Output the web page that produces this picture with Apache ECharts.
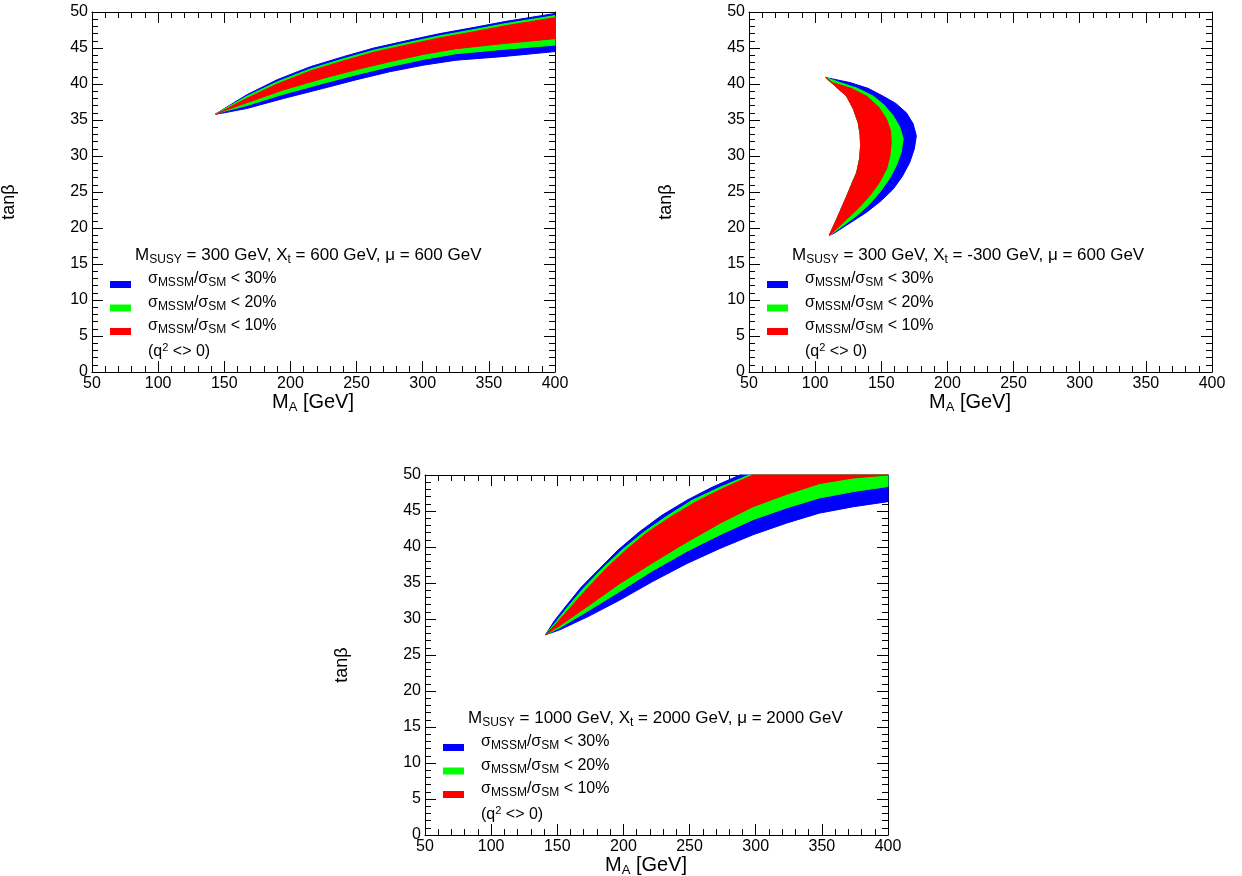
<!DOCTYPE html>
<html>
<head>
<meta charset="utf-8">
<script src="https://cdn.jsdelivr.net/npm/echarts@6/dist/echarts.min.js"></script>
<style>html,body{margin:0;padding:0;background:#fff}#c{width:1242px;height:876px}</style>
</head>
<body>
<div id="c"></div>
<script>
// ticks
const xTicks = [50, 100, 150, 200, 250, 300, 350, 400];
const yTicks = [0, 5, 10, 15, 20, 25, 30, 35, 40, 45, 50];

// panel 1: MSUSY=300, Xt=600, mu=600  (upper edge then lower edge, [MA, tanb])
const p1BlueUp = [[143,35.8],[167,38.5],[190,40.6],[215,42.4],[240,43.8],[263,45],[290,46.1],[313,47],[340,47.9],[363,48.7],[400,49.8]];
const p1BlueLo = [[400,44.5],[360,43.8],[325,43.3],[300,42.6],[275,41.7],[250,40.6],[225,39.4],[195,38],[167,36.6],[150,36]];
const p1GreenUp = [[143,35.8],[167,38.3],[190,40.3],[215,42.1],[240,43.5],[263,44.7],[290,45.8],[313,46.7],[340,47.6],[363,48.4],[400,49.5]];
const p1GreenLo = [[400,45.4],[360,44.8],[325,44.2],[300,43.4],[275,42.4],[250,41.3],[225,40.1],[195,38.6],[167,37],[150,36.2]];
const p1RedUp = [[144,35.8],[167,38],[190,40],[215,41.8],[240,43.2],[263,44.4],[290,45.5],[313,46.4],[340,47.3],[363,48.1],[400,49.2]];
const p1RedLo = [[400,46.3],[360,45.6],[325,44.9],[300,44.1],[275,43.1],[250,42],[225,40.8],[195,39.2],[167,37.4],[150,36.3]];

// panel 2: MSUSY=300, Xt=-300, mu=600  (outer edge then inner edge)
const p2Inner = [[110.7,19],[116.2,21.2],[123.8,24.4],[129,26.7],[131.4,27.7],[133.6,29.6],[134.4,31.4],[134,33],[132.6,34.6],[129,36.5],[123.8,38.3],[108,40.9]];
const p2BlueOut = [[108,40.9],[126.3,40.2],[140,39.4],[151.5,38.3],[161,37.3],[169,36],[174,34.5],[176.5,32.8],[175,31],[171.5,29.1],[166,27.2],[159,25.4],[150,23.8],[139,22.2],[113.7,19.2],[110.7,19]];
const p2GreenOut = [[108,40.9],[118.8,40.2],[132,39.4],[144,38.3],[152,37.1],[159,35.6],[164,34],[166.6,32.4],[165,30.5],[161.5,28.7],[156,26.8],[149,25],[141,23.3],[131.4,21.7],[112,19.1],[110.7,19]];
const p2RedOut = [[108,40.9],[113,40.2],[127,39.4],[139,38.3],[148,36.8],[154,35.1],[157,33.5],[157.5,31.9],[156.5,30],[154,28.2],[148.5,26.3],[141.4,24.5],[133,22.8],[123.8,21.2],[111,19],[110.7,19]];

// panel 3: MSUSY=1000, Xt=2000, mu=2000
const p3BlueUp = [[141,27.8],[148,29.8],[157,31.9],[168,34.4],[182,37],[196,39.6],[212,42.1],[229,44.4],[248,46.5],[267,48.3],[288,50],[400,50]];
const p3BlueLo = [[400,46.3],[374,45.6],[348,44.7],[323,43.3],[298,41.7],[273,39.8],[248,37.7],[222,35.2],[197,32.6],[174,30.4],[152,28.5]];
const p3GreenUp = [[141,27.8],[149,29.6],[158,31.7],[170,34.3],[184,37],[199,39.6],[215,42],[233,44.3],[252,46.5],[273,48.3],[295,50],[400,50]];
const p3GreenLo = [[400,48.4],[374,47.7],[348,46.8],[323,45.4],[298,43.8],[273,41.7],[248,39.4],[222,36.7],[197,33.8],[174,31.2],[152,28.8]];
const p3RedUp = [[141,27.8],[150,29.5],[160,31.6],[173,34.3],[187,37],[202,39.6],[218,42],[236,44.2],[255,46.3],[276,48.2],[298,50],[396,50]];
const p3RedLo = [[400,50],[374,49.6],[348,48.8],[323,47.3],[298,45.6],[273,43.3],[248,40.7],[222,37.8],[197,34.9],[174,31.9],[152,29.1]];

const BLUE = '#0000ff', GREEN = '#00ff00', RED = '#ff0000';
const FONT = 'Liberation Sans';

const panels = [
    { left: 92, top: 12, title: ['300', '600', '600'],
      bands: [[p1BlueUp, p1BlueLo, BLUE], [p1GreenUp, p1GreenLo, GREEN], [p1RedUp, p1RedLo, RED]] },
    { left: 749, top: 12, title: ['300', '-300', '600'],
      bands: [[p2BlueOut, p2Inner, BLUE], [p2GreenOut, p2Inner, GREEN], [p2RedOut, p2Inner, RED]] },
    { left: 425, top: 475, title: ['1000', '2000', '2000'],
      bands: [[p3BlueUp, p3BlueLo, BLUE], [p3GreenUp, p3GreenLo, GREEN], [p3RedUp, p3RedLo, RED]] }
];

const W = 463, H = 360;
const grid = [], xAxis = [], yAxis = [], series = [], graphic = [];

function axisBase(type, gi, pos, labels) {
    return {
        type: 'value', gridIndex: gi, position: pos,
        min: type === 'x' ? 50 : 0, max: type === 'x' ? 400 : 50, interval: type === 'x' ? 50 : 5,
        axisLine: { show: true, onZero: false, lineStyle: { color: '#000', width: 1 } },
        axisTick: { show: true, inside: true, length: 11, lineStyle: { color: '#000' } },
        minorTick: { show: true, splitNumber: 5, length: 6, lineStyle: { color: '#000' } },
        splitLine: { show: false },
        axisLabel: { show: labels, color: '#000', fontFamily: FONT, fontSize: 16, margin: 4 }
    };
}

panels.forEach((p, i) => {
    grid.push({ left: p.left, top: p.top, width: W, height: H });
    xAxis.push(axisBase('x', i, 'bottom', true), axisBase('x', i, 'top', false));
    yAxis.push(axisBase('y', i, 'left', true), axisBase('y', i, 'right', false));
    p.bands.forEach(b => {
        const pts = b[0].concat(b[1]);
        series.push({
            type: 'custom', xAxisIndex: 2 * i, yAxisIndex: 2 * i, silent: true,
            data: [pts[0]],
            renderItem: (params, api) => ({
                type: 'polygon',
                shape: { points: pts.map(q => api.coord(q)) },
                style: { fill: b[2], stroke: b[2], lineWidth: 1 }
            })
        });
    });

    // axis names
    graphic.push({ type: 'text', left: p.left + 180, top: p.top + H + 20,
        style: { text: '{n|M}{s|A}{n| [GeV]}', rich: {
            n: { fontSize: 20, fontFamily: FONT, fill: '#000' },
            s: { fontSize: 13, fontFamily: FONT, fill: '#000', padding: [10, 0, 0, 0] } } } });
    graphic.push({ type: 'text', x: p.left - 83, y: p.top + 190, rotation: Math.PI / 2,
        style: { text: 'tanβ', fontSize: 18, fontFamily: FONT, fill: '#000', align: 'center', verticalAlign: 'middle' } });

    // legend block
    const lx = p.left + 18, ly = p.top + 245;
    const rich = {
        n: { fontSize: 16, fontFamily: FONT, fill: '#000' },
        s: { fontSize: 12, fontFamily: FONT, fill: '#000', padding: [8, 0, 0, 0] },
        u: { fontSize: 11, fontFamily: FONT, fill: '#000', padding: [0, 0, 9, 0] }
    };
    const rt = Object.assign({}, rich, { n: { fontSize: 17, fontFamily: FONT, fill: '#000' } });
    graphic.push({ type: 'text', left: lx + 25, top: ly - 10,
        style: { text: '{n|M}{s|SUSY}{n| = ' + p.title[0] + ' GeV, X}{s|t}{n| = ' + p.title[1] + ' GeV, μ = ' + p.title[2] + ' GeV}', rich: rt } });
    [[BLUE, '30%'], [GREEN, '20%'], [RED, '10%']].forEach((l, k) => {
        const yy = ly + 20 + k * 23.5;
        graphic.push({ type: 'rect', shape: { x: lx, y: yy + 4, width: 21, height: 7 }, style: { fill: l[0] } });
        graphic.push({ type: 'text', left: lx + 38, top: yy - 6,
            style: { text: '{n|σ}{s|MSSM}{n|/σ}{s|SM}{n| < ' + l[1] + '}', rich: rich } });
    });
    graphic.push({ type: 'text', left: lx + 38, top: ly + 85,
        style: { text: '{n|(q}{u|2}{n| <> 0)}', rich: rich } });
});

const chart = echarts.init(document.getElementById('c'));
chart.setOption({ animation: false, backgroundColor: '#fff', grid, xAxis, yAxis, series, graphic });
</script>
</body>
</html>
